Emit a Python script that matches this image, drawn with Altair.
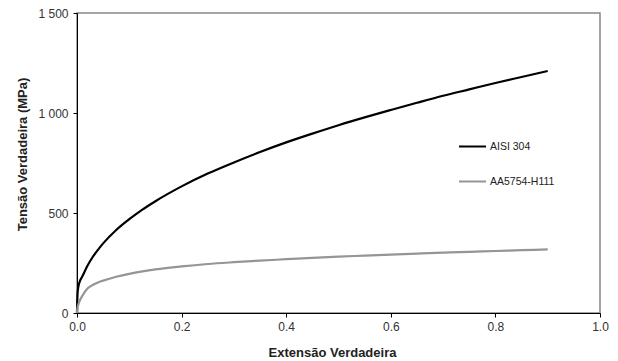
import altair as alt
import pandas as pd

strain = [0, 0.001, 0.0025, 0.005, 0.01, 0.02, 0.03, 0.04, 0.05, 0.075, 0.1, 0.125,
          0.15, 0.2, 0.25, 0.3, 0.35, 0.4, 0.45, 0.5, 0.55, 0.6, 0.65, 0.7, 0.75,
          0.8, 0.85, 0.9]
aisi304 = [0, 95, 130, 155, 182, 236, 280, 316, 348, 415, 469, 517,
           559, 633, 697, 753, 805, 853, 897, 939, 978, 1015, 1051, 1086, 1118,
           1150, 1180, 1210]
aa5754 = [0, 25, 42, 60, 85, 122, 140, 153, 162, 181, 196, 208,
          218, 233, 245, 254, 262, 269, 276, 282, 287, 292, 297, 302, 306,
          310, 314, 318]
series = ["AISI 304", "AA5754-H111"]
colors = ["#000000", "#959595"]
x_ticks = [0, 0.2, 0.4, 0.6, 0.8, 1.0]
y_ticks = [0, 500, 1000, 1500]

rows = []
for s, vals in zip(series, [aisi304, aa5754]):
    for e, v in zip(strain, vals):
        rows.append({"strain": e, "stress": v, "series": s})
df = pd.DataFrame(rows)

font = "Liberation Sans"

chart = alt.Chart(df).mark_line(strokeWidth=2.2, interpolate="monotone").encode(
    x=alt.X("strain:Q", scale=alt.Scale(domain=[0, 1], nice=False),
            axis=alt.Axis(title="Extensão Verdadeira", values=x_ticks, format=".1f",
                          labelFlush=False,
                          grid=False, domainColor="#000", tickColor="#000",
                          tickSize=4, labelPadding=4, labelFontSize=12,
                          labelColor="#333", labelFont=font, titleFont=font,
                          titleFontSize=13, titleFontWeight="bold", titleColor="#222",
                          titleX=255, titleY=43, titleBaseline="alphabetic",
                          titleAlign="center")),
    y=alt.Y("stress:Q", scale=alt.Scale(domain=[0, 1500], nice=False),
            axis=alt.Axis(title="Tensão Verdadeira (MPa)", values=y_ticks,
                          labelExpr="replace(format(datum.value, ','), ',', ' ')",
                          grid=False, domainColor="#000", tickColor="#000",
                          tickSize=4, labelPadding=5, labelFontSize=12,
                          labelColor="#333", labelFont=font, titleFont=font,
                          titleFontSize=13, titleFontWeight="bold", titleColor="#222",
                          titleX=-55, titleY=141, titleBaseline="middle",
                          titleAlign="center", titleAngle=270)),
    color=alt.Color("series:N", scale=alt.Scale(domain=series, range=colors),
                    sort=series,
                    legend=alt.Legend(title=None, orient="none", legendX=381, legendY=119,
                                      symbolType="stroke", symbolSize=729,
                                      symbolStrokeWidth=2, rowPadding=15,
                                      labelFont=font, labelFontSize=10.5,
                                      labelColor="#222", labelOffset=3)),
).properties(
    width=523, height=300,
    autosize=alt.AutoSizeParams(type="none"),
    padding={"left": 69, "top": 5, "right": 10, "bottom": 50},
).configure_view(stroke="#888888", strokeWidth=1.5)

chart.save("out.html", embed_options={"renderer": "svg", "actions": False})
